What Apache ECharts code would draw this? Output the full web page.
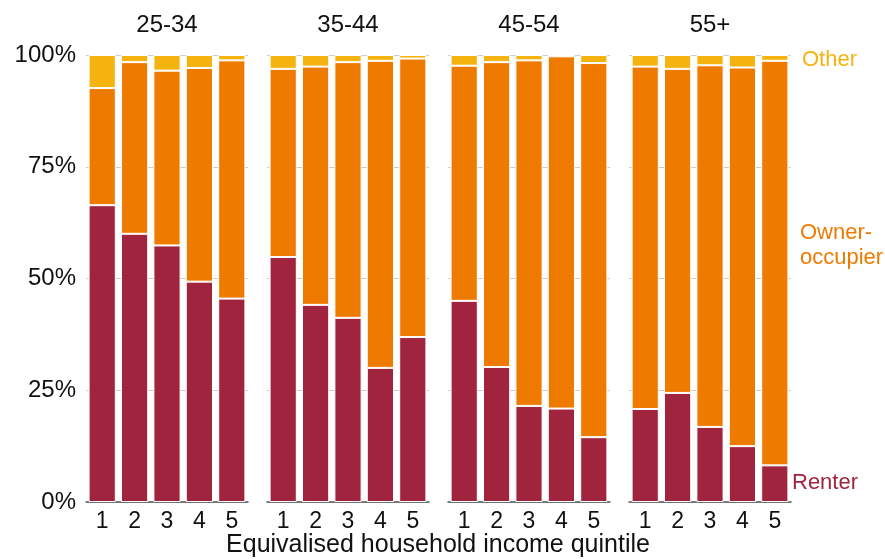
<!DOCTYPE html>
<html>
<head>
<meta charset="utf-8">
<script src="https://cdn.jsdelivr.net/npm/echarts@6/dist/echarts.min.js"></script>
<style>html,body{margin:0;padding:0;background:#fff}#c{width:885px;height:559px}</style>
</head>
<body>
<div id="c"></div>
<script>
const ageGroups = ['25-34', '35-44', '45-54', '55+'];
const quintiles = ['1', '2', '3', '4', '5'];
const yTicks = [0, 25, 50, 75, 100];
const renter = [
  [66.4, 60.0, 57.4, 49.3, 45.5],
  [54.8, 44.1, 41.2, 30.0, 36.9],
  [45.0, 30.2, 21.5, 20.9, 14.5],
  [20.8, 24.4, 16.8, 12.5, 8.2]
];
const owner = [
  [26.2, 38.4, 39.1, 47.8, 53.3],
  [42.1, 53.3, 57.2, 68.7, 62.3],
  [52.6, 68.2, 77.3, 78.8, 83.7],
  [76.6, 72.5, 80.9, 84.7, 90.5]
];
const other = [
  [7.4, 1.6, 3.5, 2.9, 1.2],
  [3.1, 2.6, 1.6, 1.3, 0.8],
  [2.4, 1.6, 1.2, 0.3, 1.8],
  [2.6, 3.1, 2.3, 2.8, 1.3]
];
const seriesNames = ['Renter', 'Owner-occupier', 'Other'];
const colors = ['#a1243f', '#ef7a00', '#f5b30f'];

const FONT = '"Liberation Sans", Arial, sans-serif';
const gridLefts = [86, 267, 448, 629];
const gridW = 162, gridTop = 55, gridH = 447;

const grids = [], xAxes = [], yAxes = [], series = [], titles = [];
ageGroups.forEach((g, i) => {
  grids.push({ left: gridLefts[i], top: gridTop, width: gridW, height: gridH });
  titles.push({
    text: g, left: gridLefts[i] + gridW / 2 - 5, top: 8, textAlign: 'center',
    textStyle: { fontFamily: FONT, fontSize: 24, fontWeight: 'normal', color: '#111' }
  });
  xAxes.push({
    type: 'category', gridIndex: i, data: quintiles,
    axisLine: { lineStyle: { color: '#555', width: 1.5 } },
    axisTick: { alignWithLabel: true, length: 6, lineStyle: { color: '#555' } },
    axisLabel: { fontFamily: FONT, fontSize: 23, color: '#111', margin: 8 }
  });
  yAxes.push({
    type: 'value', gridIndex: i, min: 0, max: 100, interval: 25,
    axisLine: { show: false }, axisTick: { show: false },
    splitLine: { lineStyle: { color: '#cccccc', width: 1 } },
    axisLabel: {
      show: i === 0, fontFamily: FONT, fontSize: 24, color: '#111', margin: 10,
      formatter: v => yTicks.includes(v) ? v + '%' : ''
    }
  });
  [renter, owner, other].forEach((arr, k) => {
    series.push({
      type: 'bar', name: seriesNames[k], stack: 'g' + i,
      xAxisIndex: i, yAxisIndex: i, data: arr[i],
      barCategoryGap: '16%',
      itemStyle: { color: colors[k], borderColor: '#fff', borderWidth: 1 },
      emphasis: { disabled: true }, animation: false
    });
  });
});

const chart = echarts.init(document.getElementById('c'), null, { renderer: 'canvas' });
chart.setOption({
  animation: false,
  title: titles,
  grid: grids, xAxis: xAxes, yAxis: yAxes, series: series,
  graphic: [
    { type: 'text', x: 802, y: 49, style: { text: 'Other', fill: '#f5b30f', font: '22px ' + FONT } },
    { type: 'text', x: 800, y: 220, style: { text: 'Owner-\noccupier', fill: '#ef7a00', font: '22px ' + FONT, lineHeight: 25 } },
    { type: 'text', x: 792, y: 472, style: { text: 'Renter', fill: '#a1243f', font: '22px ' + FONT } },
    { type: 'text', x: 438, y: 533, style: { text: 'Equivalised household income quintile', fill: '#111', font: '25px ' + FONT, align: 'center', textAlign: 'center' } }
  ]
});
</script>
</body>
</html>
